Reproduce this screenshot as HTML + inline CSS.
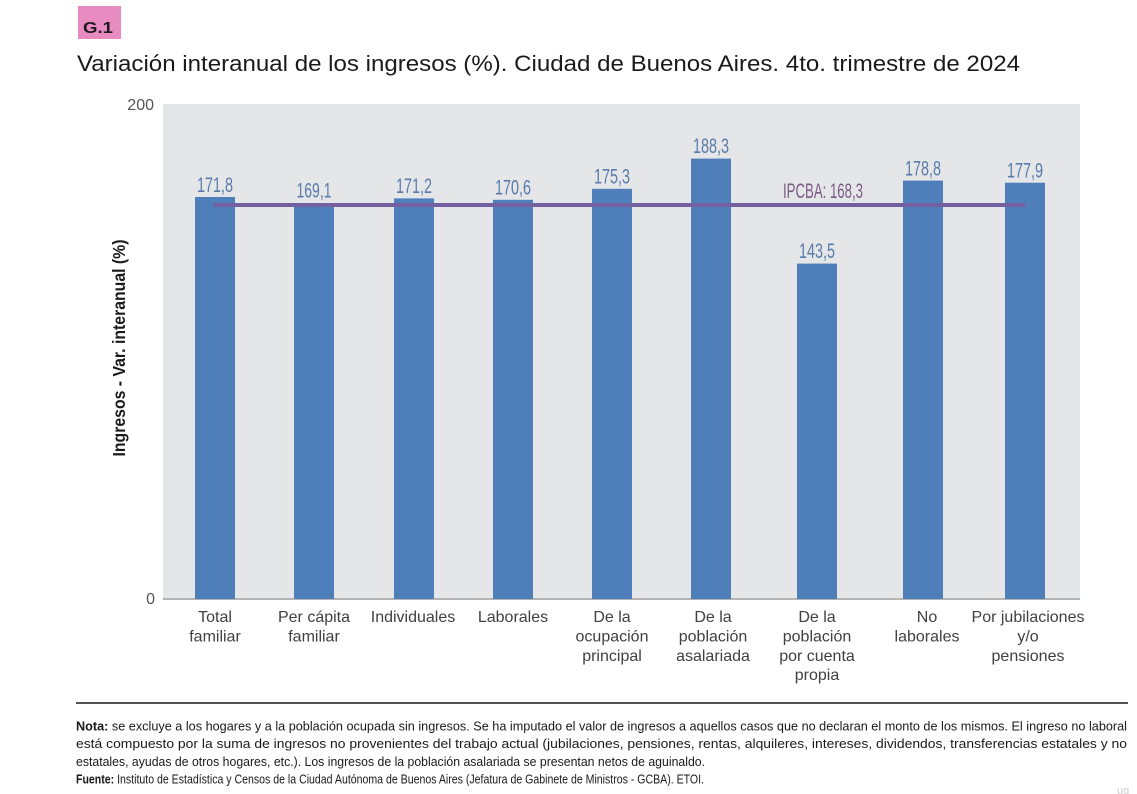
<!DOCTYPE html>
<html>
<head>
<meta charset="utf-8">
<style>
  html, body { margin:0; padding:0; background:#ffffff; }
  body { width:1137px; height:794px; overflow:hidden; }
  svg { display:block; }
  text { font-family: "Liberation Sans", "DejaVu Sans", sans-serif; }
</style>
</head>
<body>
<svg width="1137" height="794" viewBox="0 0 1137 794" xmlns="http://www.w3.org/2000/svg">
  <rect x="0" y="0" width="1137" height="794" fill="#ffffff"/>

  <!-- G.1 tag -->
  <rect x="78" y="6" width="43" height="33" fill="#e78bc0"/>
  <text x="83" y="33" font-size="16" font-weight="bold" fill="#201a20" textLength="30" lengthAdjust="spacingAndGlyphs">G.1</text>

  <!-- Title -->
  <text x="77" y="71" font-size="22" fill="#1a1a1a" textLength="943" lengthAdjust="spacingAndGlyphs">Variación interanual de los ingresos (%). Ciudad de Buenos Aires. 4to. trimestre de 2024</text>

  <!-- Plot background -->
  <rect x="163" y="104" width="917" height="495" fill="#e4e6e8"/>
  <!-- baseline axis -->
  <line x1="163" y1="599" x2="1080" y2="599" stroke="#b4b4b4" stroke-width="2"/>

  <!-- Y ticks -->
  <text x="154" y="110" font-size="16" fill="#555" text-anchor="end">200</text>
  <text x="155" y="604" font-size="16" fill="#555" text-anchor="end">0</text>

  <!-- Y axis title -->
  <text transform="translate(125,348) rotate(-90)" font-size="17.5" font-weight="bold" fill="#1a1a1a" text-anchor="middle" textLength="217" lengthAdjust="spacingAndGlyphs">Ingresos - Var. interanual (%)</text>

  <!-- Bars -->
  <g fill="#4f7fba">
    <rect x="195" y="197.0" width="40" height="402.0"/>
    <rect x="294" y="203.3" width="40" height="395.7"/>
    <rect x="394" y="198.4" width="40" height="400.6"/>
    <rect x="493" y="199.8" width="40" height="399.2"/>
    <rect x="592" y="188.8" width="40" height="410.2"/>
    <rect x="691" y="158.6" width="40" height="440.4"/>
    <rect x="797" y="263.6" width="40" height="335.4"/>
    <rect x="903" y="180.6" width="40" height="418.4"/>
    <rect x="1005" y="182.7" width="40" height="416.3"/>
  </g>

  <!-- IPCBA line -->
  <line x1="213" y1="205" x2="1025" y2="205" stroke="#7360a0" stroke-width="4"/>

  <!-- Value labels -->
  <g font-size="21" fill="#5a7bab" text-anchor="middle">
    <text x="215" y="192" textLength="36" lengthAdjust="spacingAndGlyphs">171,8</text>
    <text x="314" y="197.5" textLength="35" lengthAdjust="spacingAndGlyphs">169,1</text>
    <text x="414" y="193" textLength="36" lengthAdjust="spacingAndGlyphs">171,2</text>
    <text x="513" y="194.5" textLength="36" lengthAdjust="spacingAndGlyphs">170,6</text>
    <text x="612" y="183.5" textLength="36" lengthAdjust="spacingAndGlyphs">175,3</text>
    <text x="711" y="153" textLength="36" lengthAdjust="spacingAndGlyphs">188,3</text>
    <text x="817" y="258" textLength="36" lengthAdjust="spacingAndGlyphs">143,5</text>
    <text x="923" y="175.5" textLength="36" lengthAdjust="spacingAndGlyphs">178,8</text>
    <text x="1025" y="177.5" textLength="36" lengthAdjust="spacingAndGlyphs">177,9</text>
  </g>
  <text x="783" y="198" font-size="21" fill="#7b5a84" textLength="80" lengthAdjust="spacingAndGlyphs">IPCBA: 168,3</text>

  <!-- Category labels -->
  <g font-size="16" fill="#404040" text-anchor="middle">
    <text x="215" y="622">Total</text>
    <text x="215" y="641.5">familiar</text>
    <text x="314" y="622">Per cápita</text>
    <text x="314" y="641.5">familiar</text>
    <text x="413" y="622">Individuales</text>
    <text x="513" y="622">Laborales</text>
    <text x="612" y="622">De la</text>
    <text x="612" y="641.5">ocupación</text>
    <text x="612" y="661">principal</text>
    <text x="713" y="622">De la</text>
    <text x="713" y="641.5">población</text>
    <text x="713" y="661">asalariada</text>
    <text x="817" y="622">De la</text>
    <text x="817" y="641.5">población</text>
    <text x="817" y="661">por cuenta</text>
    <text x="817" y="680">propia</text>
    <text x="927" y="622">No</text>
    <text x="927" y="641.5">laborales</text>
    <text x="1028" y="622">Por jubilaciones</text>
    <text x="1028" y="641.5">y/o</text>
    <text x="1028" y="661">pensiones</text>
  </g>

  <!-- Separator -->
  <line x1="76" y1="703" x2="1128" y2="703" stroke="#1a1a1a" stroke-width="1.5"/>

  <!-- Notes -->
  <g font-size="13" fill="#1a1a1a">
    <text x="76" y="730.5" textLength="1051" lengthAdjust="spacingAndGlyphs"><tspan font-weight="bold">Nota:</tspan> se excluye a los hogares y a la población ocupada sin ingresos. Se ha imputado el valor de ingresos a aquellos casos que no declaran el monto de los mismos. El ingreso no laboral</text>
    <text x="76" y="748" textLength="1051" lengthAdjust="spacingAndGlyphs">está compuesto por la suma de ingresos no provenientes del trabajo actual (jubilaciones, pensiones, rentas, alquileres, intereses, dividendos, transferencias estatales y no</text>
    <text x="76" y="766" textLength="629" lengthAdjust="spacingAndGlyphs">estatales, ayudas de otros hogares, etc.). Los ingresos de la población asalariada se presentan netos de aguinaldo.</text>
    <text x="76" y="783.5" textLength="628" lengthAdjust="spacingAndGlyphs"><tspan font-weight="bold">Fuente:</tspan> Instituto de Estadística y Censos de la Ciudad Autónoma de Buenos Aires (Jefatura de Gabinete de Ministros - GCBA). ETOI.</text>
  </g>

  <text x="1117" y="794" font-size="11" fill="#cfcfcf">ug</text>
</svg>
</body>
</html>
